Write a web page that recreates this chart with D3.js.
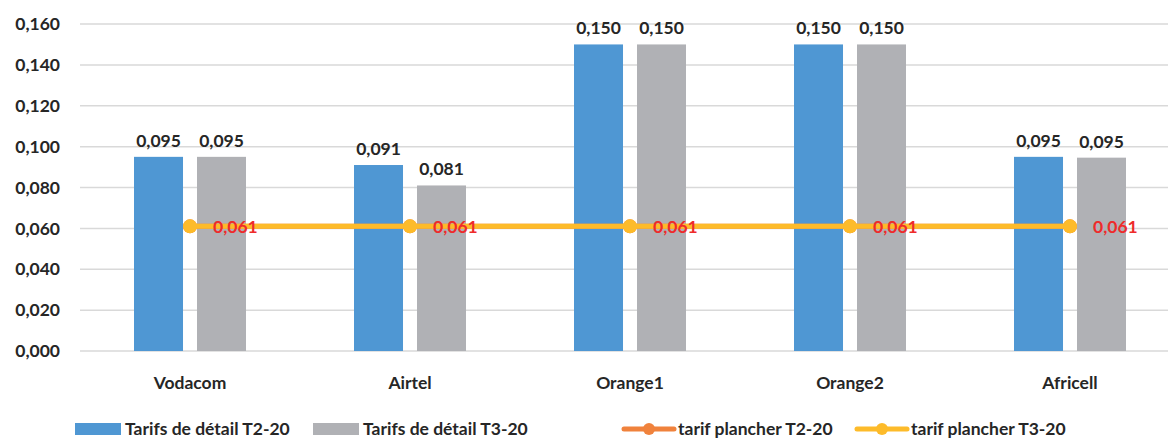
<!DOCTYPE html>
<html><head><meta charset="utf-8">
<script src="https://cdn.jsdelivr.net/npm/d3@7"></script>
<style>body{margin:0;background:#fff}svg{display:block}text{font-family:Lato,"Open Sans",sans-serif;font-weight:bold}</style>
</head><body><svg id="c" width="1168" height="440"></svg>
<script>
const categories = ["Vodacom","Airtel","Orange1","Orange2","Africell"];
const detailT2 = [0.095,0.091,0.150,0.150,0.095];
const detailT3 = [0.095,0.081,0.150,0.150,0.0946];
const plancherT2 = [0.061,0.061,0.061,0.061,0.061];
const plancherT3 = [0.061,0.061,0.061,0.061,0.061];
const yTicks = [0,0.02,0.04,0.06,0.08,0.1,0.12,0.14,0.16];
const seriesNames = ["Tarifs de détail T2-20","Tarifs de détail T3-20","tarif plancher T2-20","tarif plancher T3-20"];
const colors = ["#4F97D3","#B0B1B5","#F0823C","#FDBB2A"];
const FS = 17.5;

const svg = d3.select("#c");
const fmt = v => d3.format(".3f")(v).replace(".",",");
const y = d3.scaleLinear().domain([0,0.16]).range([351,24]);
const x0 = d3.scaleBand().domain(categories).range([80,1180]);
const x1 = d3.scaleBand().domain([0,1]).range([54,166]).paddingInner(0.222);

svg.append("g").selectAll("line").data(yTicks).join("line")
  .attr("x1",80).attr("x2",1168).attr("y1",d=>y(d)).attr("y2",d=>y(d))
  .attr("stroke","#D9D9D9").attr("stroke-width",1.5);
svg.append("g").selectAll("text").data(yTicks).join("text")
  .attr("x",60).attr("y",d=>y(d)).attr("dy","0.35em").attr("text-anchor","end")
  .attr("font-size",FS).attr("fill","#262626").text(fmt);

[detailT2,detailT3].forEach((arr,si)=>{
  const g = svg.append("g");
  g.selectAll("rect").data(arr).join("rect")
    .attr("x",(d,i)=>x0(categories[i])+x1(si)).attr("width",x1.bandwidth())
    .attr("y",d=>y(d)).attr("height",d=>y(0)-y(d)).attr("fill",colors[si]);
  g.selectAll("text").data(arr).join("text")
    .attr("x",(d,i)=>x0(categories[i])+x1(si)+x1.bandwidth()/2).attr("y",d=>y(d)-10)
    .attr("text-anchor","middle").attr("font-size",FS).attr("fill","#262626").text(fmt);
});

const cx = i => x0(categories[i])+x0.bandwidth()/2;
[plancherT2,plancherT3].forEach((arr,k)=>{
  const c = colors[2+k];
  const line = d3.line().x((d,i)=>cx(i)).y(d=>y(d));
  svg.append("path").datum(arr).attr("d",line).attr("fill","none").attr("stroke",c).attr("stroke-width",5);
  svg.append("g").selectAll("circle").data(arr).join("circle")
    .attr("cx",(d,i)=>cx(i)).attr("cy",d=>y(d)).attr("r",7).attr("fill",c);
});
svg.append("g").selectAll("text").data(plancherT3).join("text")
  .attr("x",(d,i)=>cx(i)+23).attr("y",d=>y(d)+1).attr("dy","0.35em")
  .attr("font-size",FS).attr("fill","#EE2B2B").text(fmt);

svg.append("g").selectAll("text").data(categories).join("text")
  .attr("x",(d,i)=>cx(i)).attr("y",389).attr("text-anchor","middle")
  .attr("font-size",FS).attr("fill","#262626").text(d=>d);

const leg = [{x:75,t:"rect"},{x:313,t:"rect"},{x:624,t:"line"},{x:857,t:"line"}];
leg.forEach((l,i)=>{
  const g = svg.append("g");
  if(l.t==="rect"){
    g.append("rect").attr("x",l.x).attr("y",423).attr("width",46).attr("height",12).attr("fill",colors[i]);
  } else {
    g.append("line").attr("x1",l.x).attr("x2",l.x+50).attr("y1",429).attr("y2",429).attr("stroke",colors[i]).attr("stroke-width",5).attr("stroke-linecap","round");
    g.append("circle").attr("cx",l.x+25).attr("cy",429).attr("r",6).attr("fill",colors[i]);
  }
  g.append("text").attr("x",l.x+(l.t==="rect"?50:54)).attr("y",429).attr("dy","0.35em")
    .attr("font-size",FS).attr("fill","#262626").text(seriesNames[i]);
});
</script></body></html>
